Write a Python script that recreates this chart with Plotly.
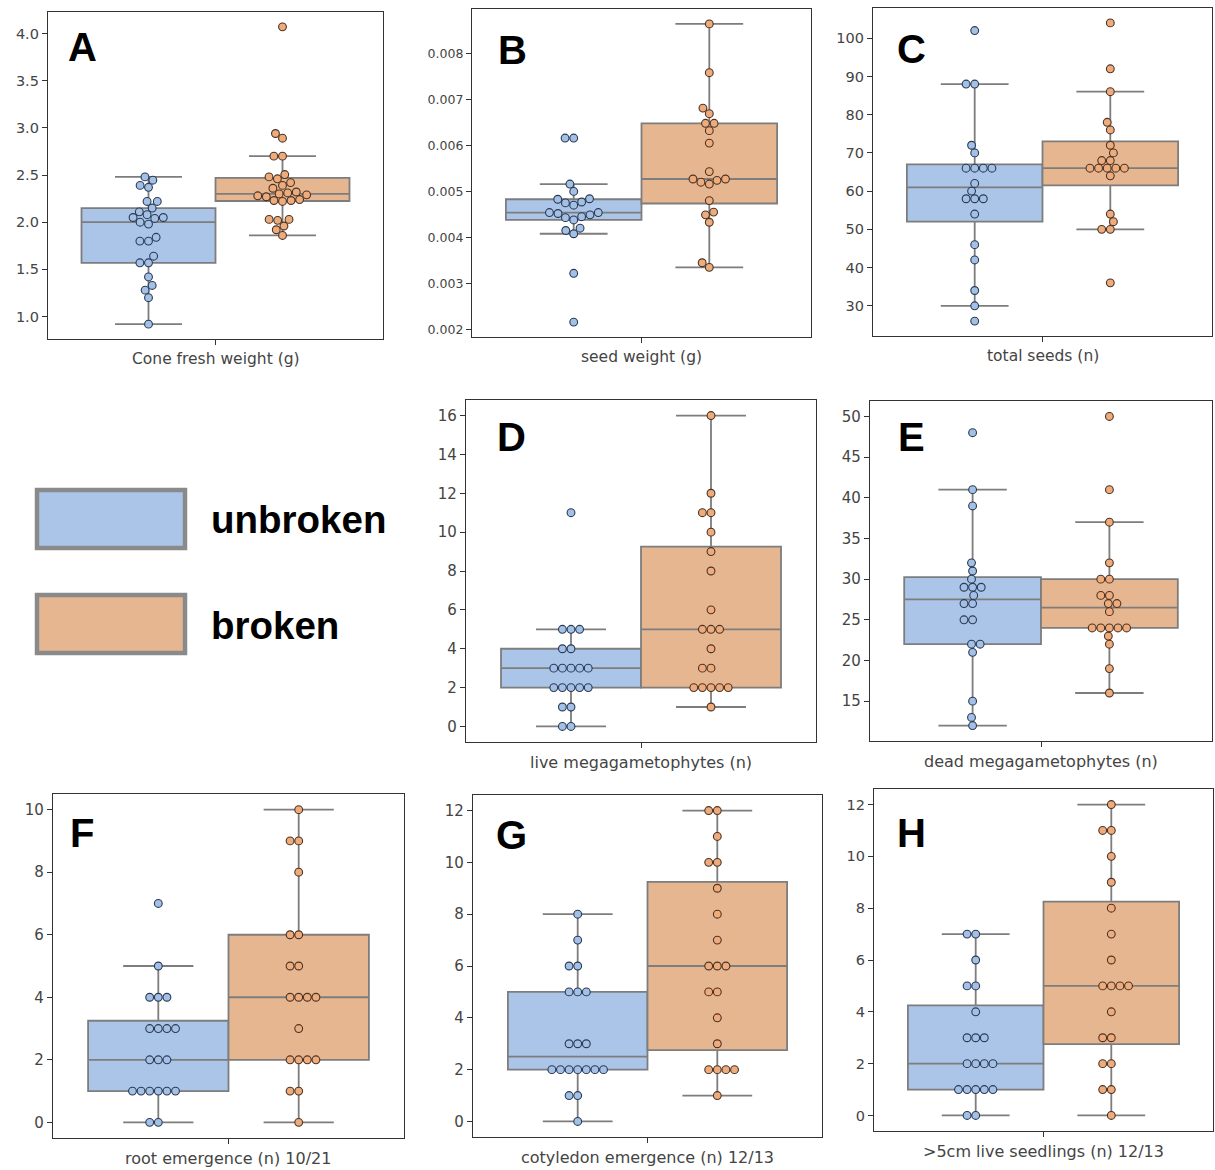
import numpy as np
import plotly.graph_objects as go

W, H = 1215, 1170

groups = ["unbroken", "broken"]

cone_unbroken = [2.48, 2.445, 2.39, 2.37, 2.22, 2.22, 2.15, 2.11, 2.08, 2.05, 2.05, 2.04, 2.00,
                 1.98, 1.84, 1.80, 1.80, 1.64, 1.57, 1.57, 1.42, 1.33, 1.28, 1.20, 0.92]
cone_broken = [4.07, 2.94, 2.89, 2.70, 2.70, 2.505, 2.48, 2.46, 2.42, 2.39, 2.36, 2.32, 2.31, 2.30,
               2.29, 2.28, 2.27, 2.24, 2.23, 2.23, 2.22, 2.03, 2.03, 2.02, 1.96, 1.92, 1.86]

seedw_unbroken = [0.00617, 0.00617, 0.00517, 0.00501, 0.00485, 0.00484, 0.00478, 0.00476, 0.00471,
                  0.00455, 0.00455, 0.00453, 0.00450, 0.00446, 0.00444, 0.00439, 0.00421, 0.00416,
                  0.00409, 0.00323, 0.00217]
seedw_broken = [0.00865, 0.00759, 0.00682, 0.00670, 0.00649, 0.00649, 0.00633, 0.00606, 0.00544,
                0.00528, 0.00528, 0.00525, 0.00521, 0.00517, 0.00481, 0.00456, 0.00450, 0.00434,
                0.00346, 0.00336]

seeds_unbroken = [102, 88, 88, 72, 70, 66, 66, 66, 66, 62, 60, 58, 58, 58, 54, 46, 42, 34, 30, 26]
seeds_broken = [104, 92, 86, 78, 76, 72, 70, 68, 68, 66, 66, 66, 66, 66, 64, 54, 52, 50, 50, 36]

live_unbroken = [11, 5, 5, 5, 4, 4, 3, 3, 3, 3, 3, 2, 2, 2, 2, 2, 1, 1, 0, 0]
live_broken = [16, 12, 11, 11, 10, 9, 8, 6, 5, 5, 5, 4, 3, 3, 2, 2, 2, 2, 2, 1]

dead_unbroken = [48, 41, 39, 32, 31, 30, 29, 29, 29, 28, 27, 27, 25, 25, 22, 22, 21, 15, 13, 12]
dead_broken = [50, 41, 37, 32, 30, 30, 28, 28, 27, 27, 26, 24, 24, 24, 24, 24, 23, 22, 19, 16]

root_unbroken = [7, 5, 4, 4, 4, 3, 3, 3, 3, 2, 2, 2, 1, 1, 1, 1, 1, 1, 0, 0]
root_broken = [10, 9, 9, 8, 6, 6, 5, 5, 4, 4, 4, 4, 3, 2, 2, 2, 2, 1, 1, 0]

coty_unbroken = [8, 7, 6, 6, 5, 5, 5, 3, 3, 3, 2, 2, 2, 2, 2, 2, 2, 1, 1, 0]
coty_broken = [12, 12, 11, 10, 10, 9, 8, 7, 6, 6, 6, 5, 5, 4, 3, 2, 2, 2, 2, 1]

seedl_unbroken = [7, 7, 6, 5, 5, 4, 3, 3, 3, 2, 2, 2, 2, 1, 1, 1, 1, 1, 0, 0]
seedl_broken = [12, 11, 11, 10, 9, 8, 7, 6, 5, 5, 5, 5, 4, 3, 3, 2, 2, 1, 1, 0]

x_titles = ["Cone fresh weight (g)", "seed weight (g)", "total seeds (n)",
            "live megagametophytes (n)", "dead megagametophytes (n)",
            "root emergence (n) 10/21", "cotyledon emergence (n) 12/13",
            ">5cm live seedlings (n) 12/13"]
letters = ["A", "B", "C", "D", "E", "F", "G", "H"]

# style / layout (pixels)
panel_px = [  # left, right, top, bottom
    (48, 383, 12, 339),
    (472, 811, 9, 337),
    (873, 1212, 8, 336),
    (466, 816, 400, 742),
    (870, 1212, 401, 741),
    (53, 404, 794, 1138),
    (473, 822, 795, 1137),
    (874, 1213, 789, 1131),
]
letter_px = [(82, 47), (512, 50), (911, 49), (511, 437), (911, 437), (82, 833), (511, 835), (911, 833)]
tick_specs = [(1.0, 0.5, ".1f"), (0.002, 0.001, ".3f"), (0, 10, "d"), (0, 2, "d"),
              (0, 5, "d"), (0, 2, "d"), (0, 2, "d"), (0, 2, "d")]
tick_font_sizes = [14.5, 12.5, 14.5, 15, 15, 15, 15, 14.5]
title_font_sizes = [15.5, 15.5, 15.5, 16, 16, 16, 16, 16]

data = [
    (cone_unbroken, cone_broken), (seedw_unbroken, seedw_broken), (seeds_unbroken, seeds_broken),
    (live_unbroken, live_broken), (dead_unbroken, dead_broken), (root_unbroken, root_broken),
    (coty_unbroken, coty_broken), (seedl_unbroken, seedl_broken),
]

box_fill = ["#abc5e8", "#e6b691"]
dot_fill = ["#a3c0e6", "#eeab7c"]
dot_edge = ["#2c3a52", "#4a3426"]
box_line = "#7d7d7d"
offsets = [-0.2, 0.2]
R_PX = 4.1


def swarm(values, px_per_unit, r):
    vals = np.asarray(values, dtype=float)
    order = np.argsort(vals, kind="mergesort")
    ys = vals[order] * px_per_unit
    placed = []
    xs_sorted = np.zeros(len(ys))
    for k, y in enumerate(ys):
        if not placed:
            placed.append((0.0, y))
            continue
        neighbors = []
        for xj, yj in reversed(placed):
            if abs(y - yj) < 2 * r:
                neighbors.append((xj, yj))
            else:
                break
        cands = [0.0]
        left_first = True
        for xj, yj in neighbors:
            dx = np.sqrt(max((2 * r) ** 2 - (y - yj) ** 2, 0)) * 1.05
            cl, cr = xj - dx, xj + dx
            cands.extend([cl, cr] if left_first else [cr, cl])
            left_first = not left_first
        cands = sorted(cands, key=abs)
        chosen = cands[-1]
        for c in cands:
            if all((c - xj) ** 2 + (y - yj) ** 2 >= (2 * r) ** 2 - 1e-6 for xj, yj in neighbors):
                chosen = c
                break
        placed.append((chosen, y))
        xs_sorted[k] = chosen
    out = np.zeros(len(vals))
    out[order] = xs_sorted
    return out


def box_stats(values):
    v = np.asarray(values, dtype=float)
    q1, med, q3 = np.percentile(v, [25, 50, 75])
    iqr = q3 - q1
    lf = v[v >= q1 - 1.5 * iqr].min()
    uf = v[v <= q3 + 1.5 * iqr].max()
    return q1, med, q3, lf, uf


fig = go.Figure()
annotations = []
shapes = []
layout = {}

for i, (pair, (l, r, t, b)) in enumerate(zip(data, panel_px)):
    n = i + 1
    xa = "x" if n == 1 else f"x{n}"
    ya = "y" if n == 1 else f"y{n}"
    allv = np.concatenate([np.asarray(pair[0], float), np.asarray(pair[1], float)])
    span = allv.max() - allv.min()
    yr = [allv.min() - 0.05 * span, allv.max() + 0.05 * span]
    ypx = (b - t) / (yr[1] - yr[0])
    xpx = (r - l) / 1.0

    for g in range(2):
        vals = pair[g]
        q1, med, q3, lf, uf = box_stats(vals)
        fig.add_trace(go.Box(
            x=[offsets[g]], q1=[q1], median=[med], q3=[q3], lowerfence=[lf], upperfence=[uf],
            width=0.4, orientation="v", fillcolor=box_fill[g],
            line=dict(color=box_line, width=1.8), whiskerwidth=0.5, boxpoints=False,
            name=groups[g], showlegend=False, hoverinfo="skip", xaxis=xa, yaxis=ya,
        ))
        sx = swarm(vals, ypx, R_PX) / xpx + offsets[g]
        fig.add_trace(go.Scatter(
            x=sx, y=vals, mode="markers", name=groups[g], showlegend=False,
            marker=dict(size=7.8, color=dot_fill[g], line=dict(color=dot_edge[g], width=1.1)),
            xaxis=xa, yaxis=ya, hoverinfo="skip",
        ))

    key_x = "xaxis" if n == 1 else f"xaxis{n}"
    key_y = "yaxis" if n == 1 else f"yaxis{n}"
    tick0, dtick, fmt = tick_specs[i]
    layout[key_x] = dict(
        domain=[l / W, r / W], anchor=ya, range=[-0.5, 0.5],
        tickvals=[0], showticklabels=False, ticks="outside", ticklen=5, tickwidth=1.2,
        tickcolor="#333", showline=True, linecolor="#333", linewidth=1.3, mirror=True,
        showgrid=False, zeroline=False, fixedrange=True,
    )
    layout[key_y] = dict(
        domain=[1 - b / H, 1 - t / H], anchor=xa, range=yr,
        tick0=tick0, dtick=dtick, tickformat=fmt, ticks="outside", ticklen=5, tickwidth=1.2,
        tickcolor="#333", showline=True, linecolor="#333", linewidth=1.3, mirror=True,
        showgrid=False, zeroline=False,
        tickfont=dict(family="DejaVu Sans", size=tick_font_sizes[i], color="#444"),
        fixedrange=True,
    )
    annotations.append(dict(
        text=x_titles[i], x=(l + r) / 2 / W, y=1 - (b + 20) / H, xref="paper", yref="paper",
        xanchor="center", yanchor="middle", showarrow=False,
        font=dict(family="DejaVu Sans", size=title_font_sizes[i], color="#444"),
    ))
    lx, ly = letter_px[i]
    annotations.append(dict(
        text=f"<b>{letters[i]}</b>", x=lx / W, y=1 - ly / H, xref="paper", yref="paper",
        xanchor="center", yanchor="middle", showarrow=False,
        font=dict(family="Liberation Sans", size=40, color="#000"),
    ))

# legend (manual)
legend_rows = [(490, 548, 519), (595, 653, 625)]
for g, (t0, b0, ty) in enumerate(legend_rows):
    shapes.append(dict(
        type="rect", xref="paper", yref="paper", x0=37 / W, x1=185 / W, y0=1 - b0 / H, y1=1 - t0 / H,
        fillcolor=box_fill[g], line=dict(color="#8a8a8a", width=4.5),
    ))
    annotations.append(dict(
        text=f"<b>{groups[g]}</b>", x=209 / W, y=1 - ty / H, xref="paper", yref="paper",
        xanchor="left", yanchor="middle", showarrow=False,
        font=dict(family="Liberation Sans", size=38.5, color="#000"),
    ))

fig.update_layout(
    width=W, height=H, margin=dict(l=0, r=0, t=0, b=0),
    paper_bgcolor="white", plot_bgcolor="white", boxmode="overlay",
    annotations=annotations, shapes=shapes, showlegend=False, **layout,
)

fig.write_html(
    "out.html",
    config={"displayModeBar": False},
    post_script="document.body.style.margin='0px';document.body.style.overflow='hidden';",
)
